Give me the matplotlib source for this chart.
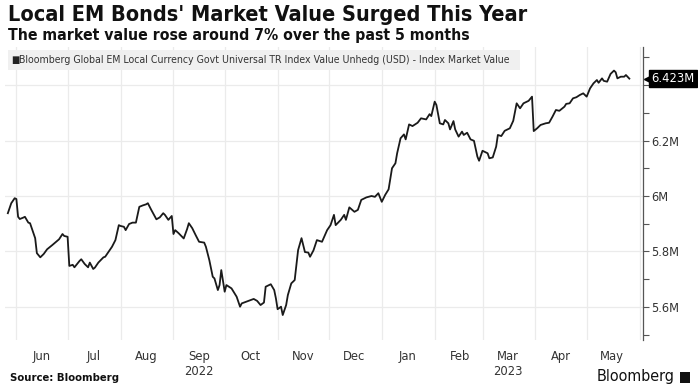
import numpy as np
import pandas as pd
import matplotlib
matplotlib.use("Agg")
from matplotlib import pyplot as plt
import matplotlib.dates as mdates
from matplotlib.patches import Rectangle

# index market value, in millions
dates = [
    "2022-05-27", "2022-05-29", "2022-05-31", "2022-06-01", "2022-06-02", "2022-06-03",
    "2022-06-05", "2022-06-06", "2022-06-08", "2022-06-09", "2022-06-10", "2022-06-12",
    "2022-06-13", "2022-06-15", "2022-06-17", "2022-06-19", "2022-06-22", "2022-06-26",
    "2022-06-28", "2022-06-29", "2022-07-01", "2022-07-02", "2022-07-04", "2022-07-05",
    "2022-07-08", "2022-07-09", "2022-07-11", "2022-07-13", "2022-07-14", "2022-07-16",
    "2022-07-17", "2022-07-19", "2022-07-22", "2022-07-23", "2022-07-27", "2022-07-29",
    "2022-07-31", "2022-08-01", "2022-08-03", "2022-08-04", "2022-08-06", "2022-08-08",
    "2022-08-10", "2022-08-12", "2022-08-14", "2022-08-16", "2022-08-17", "2022-08-19",
    "2022-08-22", "2022-08-24", "2022-08-26", "2022-08-27", "2022-08-29", "2022-08-31",
    "2022-09-01", "2022-09-02", "2022-09-04", "2022-09-07", "2022-09-09", "2022-09-10",
    "2022-09-12", "2022-09-14", "2022-09-16", "2022-09-19", "2022-09-20", "2022-09-22",
    "2022-09-24", "2022-09-25", "2022-09-27", "2022-09-28", "2022-09-29", "2022-10-01",
    "2022-10-02", "2022-10-05", "2022-10-08", "2022-10-10", "2022-10-11", "2022-10-15",
    "2022-10-18", "2022-10-20", "2022-10-22", "2022-10-24", "2022-10-25", "2022-10-28",
    "2022-10-30", "2022-10-31", "2022-11-01", "2022-11-03", "2022-11-04", "2022-11-06",
    "2022-11-07", "2022-11-09", "2022-11-11", "2022-11-13", "2022-11-15", "2022-11-17",
    "2022-11-19", "2022-11-20", "2022-11-22", "2022-11-24", "2022-11-27", "2022-11-30",
    "2022-12-02", "2022-12-04", "2022-12-05", "2022-12-08", "2022-12-10", "2022-12-11",
    "2022-12-13", "2022-12-16", "2022-12-18", "2022-12-20", "2022-12-23", "2022-12-26",
    "2022-12-28", "2022-12-30", "2023-01-01", "2023-01-03", "2023-01-05", "2023-01-07",
    "2023-01-09", "2023-01-10", "2023-01-12", "2023-01-14", "2023-01-15", "2023-01-17",
    "2023-01-19", "2023-01-22", "2023-01-24", "2023-01-27", "2023-01-29", "2023-01-30",
    "2023-02-01", "2023-02-02", "2023-02-04", "2023-02-06", "2023-02-07", "2023-02-09",
    "2023-02-10", "2023-02-12", "2023-02-13", "2023-02-15", "2023-02-17", "2023-02-18",
    "2023-02-20", "2023-02-22", "2023-02-24", "2023-02-26", "2023-02-27", "2023-03-01",
    "2023-03-04", "2023-03-05", "2023-03-07", "2023-03-09", "2023-03-10", "2023-03-12",
    "2023-03-14", "2023-03-17", "2023-03-19", "2023-03-21", "2023-03-23", "2023-03-25",
    "2023-03-28", "2023-03-30", "2023-03-31", "2023-04-02", "2023-04-04", "2023-04-07",
    "2023-04-09", "2023-04-11", "2023-04-13", "2023-04-15", "2023-04-18", "2023-04-19",
    "2023-04-21", "2023-04-23", "2023-04-25", "2023-04-27", "2023-04-29", "2023-05-01",
    "2023-05-03", "2023-05-05", "2023-05-07", "2023-05-08", "2023-05-10", "2023-05-11",
    "2023-05-13", "2023-05-15", "2023-05-17", "2023-05-18", "2023-05-19", "2023-05-21",
    "2023-05-23", "2023-05-24", "2023-05-26",
]
values = [
    5.938, 5.974, 5.992, 5.989, 5.925, 5.917,
    5.922, 5.925, 5.904, 5.902, 5.884, 5.848,
    5.794, 5.779, 5.791, 5.808, 5.823, 5.844,
    5.863, 5.856, 5.853, 5.748, 5.752, 5.743,
    5.766, 5.772, 5.755, 5.743, 5.760, 5.737,
    5.742, 5.760, 5.779, 5.781, 5.817, 5.841,
    5.895, 5.892, 5.889, 5.877, 5.899, 5.904,
    5.904, 5.961, 5.966, 5.970, 5.974, 5.950,
    5.916, 5.923, 5.938, 5.932, 5.914, 5.928,
    5.863, 5.877, 5.866, 5.847, 5.881, 5.902,
    5.884, 5.859, 5.835, 5.832, 5.817, 5.769,
    5.709, 5.703, 5.661, 5.679, 5.733, 5.655,
    5.679, 5.667, 5.637, 5.601, 5.613, 5.622,
    5.629, 5.622, 5.607, 5.616, 5.673, 5.682,
    5.661, 5.631, 5.592, 5.601, 5.571, 5.607,
    5.643, 5.685, 5.697, 5.805, 5.848, 5.798,
    5.796, 5.781, 5.804, 5.841, 5.835, 5.877,
    5.895, 5.932, 5.895, 5.914, 5.932, 5.914,
    5.959, 5.943, 5.950, 5.986, 5.995, 6.000,
    5.997, 6.010, 5.979, 6.004, 6.024, 6.100,
    6.118, 6.154, 6.208, 6.222, 6.204, 6.258,
    6.252, 6.264, 6.280, 6.276, 6.295, 6.288,
    6.340, 6.328, 6.262, 6.258, 6.274, 6.262,
    6.240, 6.270, 6.240, 6.214, 6.232, 6.220,
    6.228, 6.204, 6.199, 6.142, 6.127, 6.163,
    6.154, 6.136, 6.139, 6.178, 6.220, 6.216,
    6.235, 6.244, 6.271, 6.334, 6.316, 6.334,
    6.343, 6.358, 6.234, 6.244, 6.256, 6.262,
    6.264, 6.286, 6.310, 6.307, 6.322, 6.332,
    6.334, 6.352, 6.356, 6.364, 6.370, 6.358,
    6.388, 6.406, 6.418, 6.408, 6.424, 6.415,
    6.412, 6.440, 6.452, 6.446, 6.424, 6.430,
    6.430, 6.436, 6.423,
]
y_ticks = [5.6, 5.8, 6.0, 6.2, 6.4]
last_label = "6.423M"
series_name = "Bloomberg Global EM Local Currency Govt Universal TR Index Value Unhedg (USD) - Index Market Value"

# Bloomberg charts use a narrow face -> DejaVu Sans Condensed
plt.rcParams["font.family"] = ["DejaVu Sans"]
plt.rcParams["font.stretch"] = "condensed"

x = pd.to_datetime(dates)
W, H = 698, 391

fig = plt.figure(figsize=(W / 100, H / 100), dpi=100)
fig.patch.set_facecolor("white")

def fx(px):
    return px / W

def fy(py):
    return 1 - py / H

ax = fig.add_axes([fx(5), fy(340), fx(643 - 5), (340 - 47) / H])
ax.plot(x, values, color="#1a1a1a", lw=1.3, zorder=3)

ax.set_xlim(pd.Timestamp("2022-05-25 08:00"), pd.Timestamp("2023-06-03"))
ax.set_ylim(5.481, 6.537)

# month boundaries: grid lines, month names centred between
ax.xaxis.set_major_locator(mdates.MonthLocator())
ax.xaxis.set_major_formatter(plt.NullFormatter())
ax.xaxis.set_minor_locator(mdates.MonthLocator(bymonthday=16))

def month_fmt(v, pos=None):
    d = mdates.num2date(v)
    s = d.strftime("%b")
    if (d.year, d.month) in [(2022, 9), (2023, 3)]:
        s += "\n" + str(d.year)
    return s

ax.xaxis.set_minor_formatter(plt.FuncFormatter(month_fmt))
ax.tick_params(axis="x", which="both", length=0, pad=7, labelsize=9.3, colors="#333333")
ax.grid(True, axis="x", which="major", color="#ebebeb", lw=0.9)

def y_fmt(v, p):
    # the 6.4M label sits under the last-value tag
    if abs(v - 6.4) < 1e-6:
        return ""
    return "{:g}M".format(round(v, 1))

ax.yaxis.tick_right()
ax.set_yticks(y_ticks)
ax.yaxis.set_minor_locator(plt.MultipleLocator(0.1))
ax.yaxis.set_major_formatter(plt.FuncFormatter(y_fmt))
ax.tick_params(axis="y", which="both", direction="out", length=4, width=0.8,
               color="#555555", labelsize=9.2, labelcolor="#333333", pad=2)
ax.grid(True, axis="y", which="major", color="#ebebeb", lw=0.9)
ax.set_axisbelow(True)
for s in ["top", "left", "bottom"]:
    ax.spines[s].set_visible(False)
ax.spines["right"].set_color("#555555")
ax.spines["right"].set_linewidth(0.9)

# last value tag
ax.annotate(last_label, xy=(1, values[-1]), xycoords=("axes fraction", "data"),
            xytext=(6, 0), textcoords="offset points", ha="left", va="center",
            fontsize=9.3, color="white", annotation_clip=False, zorder=10,
            bbox=dict(boxstyle="square,pad=0.15", fc="black", ec="black"))
ax.plot([1.006], [values[-1]], marker="<", color="black", markersize=5,
        transform=ax.get_yaxis_transform(), clip_on=False, zorder=10)

# legend strip
fig.patches.append(Rectangle((fx(8), fy(70)), fx(520 - 8), 20 / H,
                             transform=fig.transFigure, fc="#f0f0f0", ec="none", zorder=5))
fig.text(fx(11), fy(60), "\u25a0", fontsize=7, color="#222222", va="center", zorder=6)
fig.text(fx(19), fy(60), series_name, fontsize=7.6, color="#333333", va="center", zorder=6)

fig.text(fx(8), fy(5), "Local EM Bonds' Market Value Surged This Year",
         fontsize=15.6, fontweight="bold", color="#111111", va="top")
fig.text(fx(8), fy(28), "The market value rose around 7% over the past 5 months",
         fontsize=11.3, fontweight="bold", color="#111111", va="top")

fig.text(fx(10), fy(378), "Source: Bloomberg", fontsize=8.1, fontweight="bold",
         color="#111111", va="center")
fig.text(fx(674), fy(377), "Bloomberg", fontsize=11.5, color="#111111",
         va="center", ha="right")
fig.patches.append(Rectangle((fx(680), fy(383)), fx(10), 11 / H,
                             transform=fig.transFigure, fc="#111111", ec="none"))

fig.savefig("out.png", dpi=100)
